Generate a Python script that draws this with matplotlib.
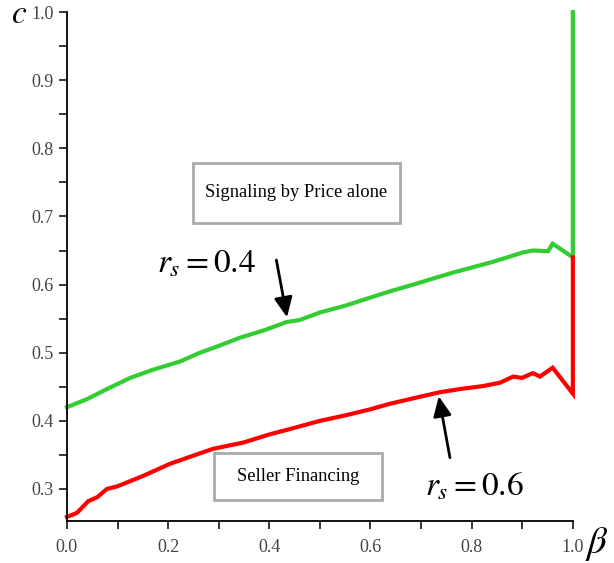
import matplotlib
matplotlib.use("Agg")
import matplotlib.pyplot as plt
from matplotlib.patches import Rectangle
from matplotlib.ticker import MultipleLocator

plt.rcParams["font.family"] = "Liberation Serif"
plt.rcParams["mathtext.fontset"] = "stix"

# Data
beta_green = [0.0, 0.04, 0.08, 0.125, 0.17, 0.223, 0.263, 0.30, 0.342, 0.39, 0.434, 0.46,
              0.50, 0.55, 0.60, 0.638, 0.68, 0.72, 0.76, 0.80, 0.84, 0.875, 0.90, 0.921,
              0.951, 0.960, 1.0, 1.0]
c_green = [0.420, 0.432, 0.447, 0.463, 0.475, 0.487, 0.500, 0.510, 0.522, 0.533, 0.545, 0.548,
           0.559, 0.569, 0.581, 0.590, 0.599, 0.608, 0.617, 0.625, 0.633, 0.641, 0.647, 0.650,
           0.649, 0.660, 0.640, 1.0]

beta_red = [0.0, 0.02, 0.042, 0.06, 0.079, 0.10, 0.15, 0.204, 0.25, 0.289, 0.348, 0.40, 0.441,
            0.50, 0.55, 0.60, 0.638, 0.69, 0.737, 0.78, 0.822, 0.856, 0.882, 0.899, 0.921,
            0.935, 0.960, 1.0, 1.0]
c_red = [0.259, 0.265, 0.282, 0.288, 0.300, 0.304, 0.319, 0.337, 0.349, 0.359, 0.368, 0.380, 0.388,
         0.400, 0.408, 0.417, 0.425, 0.434, 0.442, 0.447, 0.451, 0.456, 0.465, 0.463, 0.470,
         0.465, 0.478, 0.440, 0.640]

fig = plt.figure(figsize=(6.14, 5.63), dpi=100)
ax = fig.add_axes([0.109, 0.0746, 0.824, 0.904])

ax.plot(beta_green, c_green, color="#33cc33", lw=3, solid_joinstyle="miter", clip_on=False)
ax.plot(beta_red, c_red, color="#ff0000", lw=3, solid_joinstyle="miter", clip_on=False)

ax.set_xlim(0, 1.0)
ax.set_ylim(0.253, 1.0)
ax.xaxis.set_major_locator(MultipleLocator(0.2))
ax.xaxis.set_minor_locator(MultipleLocator(0.1))
ax.yaxis.set_major_locator(MultipleLocator(0.1))
ax.yaxis.set_minor_locator(MultipleLocator(0.05))
ax.xaxis.set_major_formatter(plt.FuncFormatter(lambda v, p: f"{v:.1f}"))
ax.yaxis.set_major_formatter(plt.FuncFormatter(lambda v, p: f"{v:.1f}"))

for s in ["top", "right"]:
    ax.spines[s].set_visible(False)
for s in ["left", "bottom"]:
    ax.spines[s].set_linewidth(1.3)
ax.tick_params(which="both", direction="out", length=6, width=1.1, color="black",
               labelsize=13, labelcolor="#444444")
ax.tick_params(axis="x", pad=7)

# axis labels
ax.text(-0.095, 0.995, "$c$", transform=ax.transAxes, fontsize=24, ha="center", va="center",
        clip_on=False)
ax.text(1.047, -0.045, r"$\beta$", transform=ax.transAxes, fontsize=28, ha="center",
        va="center", clip_on=False)

# region boxes
ax.add_patch(Rectangle((0.249, 0.691), 0.409, 0.087, fill=False, edgecolor="#aaaaaa", lw=2))
ax.text(0.4535, 0.7345, "Signaling by Price alone", fontsize=13.3, ha="center", va="center")
ax.add_patch(Rectangle((0.29, 0.284), 0.333, 0.069, fill=False, edgecolor="#aaaaaa", lw=2))
ax.text(0.4565, 0.3185, "Seller Financing", fontsize=13.3, ha="center", va="center")

# curve labels with arrows
arrow = dict(arrowstyle="-|>,head_length=1.2,head_width=0.55", color="black", lw=2,
             shrinkA=0, shrinkB=0)
ax.text(0.275, 0.630, "$r_s = 0.4$", fontsize=24, ha="center", va="center")
ax.annotate("", xy=(0.435, 0.552), xytext=(0.414, 0.636), arrowprops=arrow)
ax.text(0.806, 0.303, "$r_s = 0.6$", fontsize=24, ha="center", va="center")
ax.annotate("", xy=(0.735, 0.436), xytext=(0.757, 0.346), arrowprops=arrow)

fig.savefig("out.png", dpi=100)
